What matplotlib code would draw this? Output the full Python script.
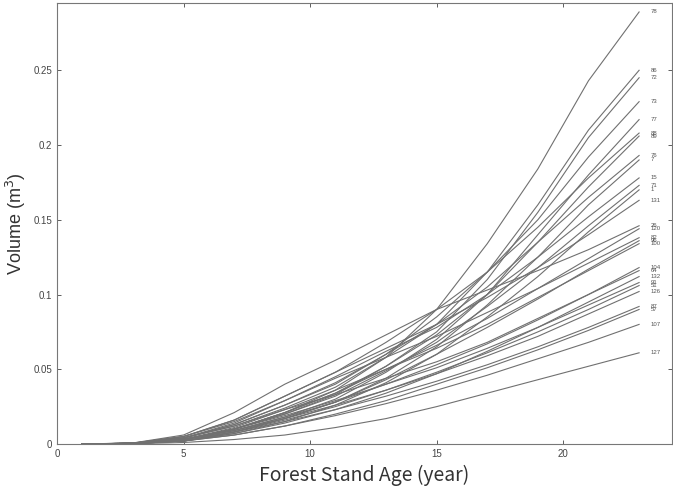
import numpy as np
import matplotlib
matplotlib.use("Agg")
from matplotlib import pyplot as plt
from matplotlib.ticker import FormatStrFormatter

# 林齢（年）
years = [1, 3, 5, 7, 9, 11, 13, 15, 17, 19, 21, 23]

# 各個体の材積 (m3)
v78 = [0, 0.0005, 0.003, 0.010, 0.021, 0.036, 0.058, 0.090, 0.134, 0.184, 0.243, 0.289]
v86 = [0, 0.0005, 0.004, 0.012, 0.024, 0.038, 0.058, 0.080, 0.115, 0.160, 0.210, 0.250]
v72 = [0, 0.0005, 0.003, 0.010, 0.020, 0.033, 0.052, 0.075, 0.110, 0.155, 0.205, 0.245]
v73 = [0, 0.0005, 0.004, 0.013, 0.026, 0.040, 0.060, 0.085, 0.115, 0.150, 0.192, 0.229]
v77 = [0, 0.0004, 0.003, 0.009, 0.018, 0.030, 0.048, 0.070, 0.100, 0.140, 0.180, 0.217]
v88 = [0, 0.0006, 0.005, 0.016, 0.032, 0.048, 0.068, 0.090, 0.115, 0.145, 0.178, 0.208]
v89 = [0, 0.0004, 0.003, 0.010, 0.021, 0.034, 0.052, 0.073, 0.100, 0.135, 0.172, 0.206]
v76 = [0, 0.0005, 0.004, 0.013, 0.026, 0.041, 0.060, 0.080, 0.105, 0.135, 0.165, 0.193]
v7 = [0, 0.0003, 0.002, 0.008, 0.017, 0.028, 0.044, 0.065, 0.093, 0.125, 0.160, 0.190]
v15 = [0, 0.0005, 0.004, 0.014, 0.029, 0.045, 0.062, 0.078, 0.100, 0.125, 0.152, 0.178]
v71 = [0, 0.0004, 0.003, 0.010, 0.020, 0.032, 0.049, 0.068, 0.092, 0.118, 0.146, 0.173]
v1 = [0, 0.0003, 0.002, 0.007, 0.015, 0.026, 0.041, 0.060, 0.085, 0.112, 0.142, 0.170]
v131 = [0, 0.0005, 0.005, 0.016, 0.032, 0.048, 0.064, 0.080, 0.098, 0.118, 0.140, 0.163]
v26 = [0, 0.0007, 0.006, 0.021, 0.040, 0.056, 0.073, 0.090, 0.103, 0.116, 0.130, 0.146]
v120 = [0, 0.0004, 0.003, 0.010, 0.021, 0.034, 0.050, 0.066, 0.084, 0.104, 0.124, 0.144]
v82 = [0, 0.0006, 0.005, 0.015, 0.029, 0.044, 0.058, 0.072, 0.088, 0.104, 0.121, 0.138]
v96 = [0, 0.0003, 0.002, 0.008, 0.017, 0.028, 0.043, 0.060, 0.078, 0.097, 0.117, 0.136]
v100 = [0, 0.0004, 0.003, 0.011, 0.023, 0.036, 0.050, 0.064, 0.080, 0.098, 0.116, 0.134]
v104 = [0, 0.0004, 0.003, 0.009, 0.018, 0.028, 0.040, 0.053, 0.067, 0.083, 0.100, 0.118]
v64 = [0, 0.0005, 0.004, 0.012, 0.023, 0.033, 0.044, 0.055, 0.068, 0.084, 0.100, 0.116]
v132 = [0, 0.0003, 0.002, 0.007, 0.014, 0.023, 0.034, 0.047, 0.062, 0.078, 0.095, 0.112]
v91 = [0, 0.0004, 0.003, 0.010, 0.019, 0.029, 0.040, 0.051, 0.064, 0.078, 0.093, 0.108]
v51 = [0, 0.0003, 0.002, 0.008, 0.016, 0.025, 0.036, 0.048, 0.061, 0.075, 0.090, 0.106]
v126 = [0, 0.0004, 0.003, 0.009, 0.017, 0.026, 0.036, 0.047, 0.059, 0.072, 0.087, 0.102]
v87 = [0, 0.0003, 0.003, 0.008, 0.015, 0.023, 0.032, 0.042, 0.053, 0.065, 0.078, 0.092]
v57 = [0, 0.0003, 0.002, 0.006, 0.012, 0.020, 0.029, 0.040, 0.051, 0.063, 0.076, 0.090]
v107 = [0, 0.0003, 0.002, 0.006, 0.012, 0.019, 0.027, 0.036, 0.046, 0.057, 0.068, 0.080]
v127 = [0, 0.0002, 0.001, 0.003, 0.006, 0.011, 0.017, 0.025, 0.034, 0.043, 0.052, 0.061]

# 個体番号と系列
names = ['78', '86', '72', '73', '77', '88', '89', '76', '7', '15', '71', '1', '131',
         '26', '120', '82', '96', '100', '104', '64', '132', '91', '51', '126',
         '87', '57', '107', '127']
series = [v78, v86, v72, v73, v77, v88, v89, v76, v7, v15, v71, v1, v131,
          v26, v120, v82, v96, v100, v104, v64, v132, v91, v51, v126,
          v87, v57, v107, v127]

fig = plt.figure(figsize=(6.73, 4.88), dpi=100)
ax = fig.add_axes([57 / 673, 1 - 444 / 488, 615 / 673, 441 / 488])

for name, vals in zip(names, series):
    ax.plot(years, vals, color='#707070', lw=0.8)
    ax.text(years[-1] + 0.45, vals[-1], name, fontsize=4.3, color='#555555',
            va='center', ha='left', family='Liberation Sans')

ax.set_xlim(0, 24.3)
ax.set_ylim(0, 0.295)
ax.set_xticks([0, 5, 10, 15, 20])
ax.set_yticks([0, 0.05, 0.1, 0.15, 0.2, 0.25])
ax.yaxis.set_major_formatter(FormatStrFormatter('%g'))
ax.tick_params(direction='in', top=True, right=True, length=3, width=0.6,
               labelsize=7, colors='#444444')
for lab in ax.get_xticklabels() + ax.get_yticklabels():
    lab.set_family('Liberation Sans')
for s in ax.spines.values():
    s.set_color('#777777')
    s.set_linewidth(0.8)

ax.set_xlabel('Forest Stand Age (year)', fontsize=14, color='#333333',
              family=['Noto Sans CJK JP', 'DejaVu Sans'])
ax.set_ylabel('Volume (m$^3$)', fontsize=13, color='#333333',
              family='Liberation Sans')

fig.savefig('out.png', dpi=100)
